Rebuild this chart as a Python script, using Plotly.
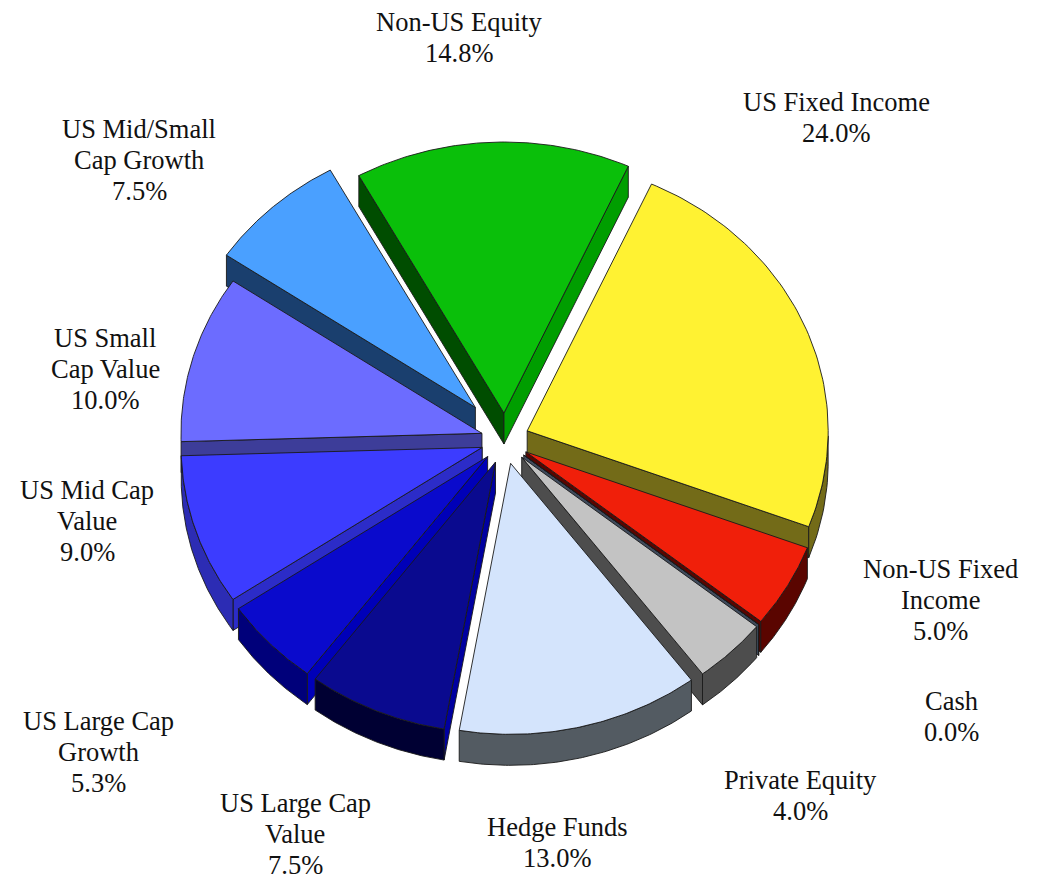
import numpy as np
import plotly.graph_objects as go

categories = ["US Fixed Income", "Non-US Fixed Income", "Cash", "Private Equity", "Hedge Funds",
              "US Large Cap Value", "US Large Cap Growth", "US Mid Cap Value", "US Small Cap Value",
              "US Mid/Small Cap Growth", "Non-US Equity"]
values = [24.0, 5.0, 0.0, 4.0, 13.0, 7.5, 5.3, 9.0, 10.0, 7.5, 14.8]
label_lines = [["US Fixed Income"], ["Non-US Fixed", "Income"], ["Cash"], ["Private Equity"], ["Hedge Funds"],
               ["US Large Cap", "Value"], ["US Large Cap", "Growth"], ["US Mid Cap", "Value"],
               ["US Small", "Cap Value"], ["US Mid/Small", "Cap Growth"], ["Non-US Equity"]]
top_colors = ["#fff232", "#f01f0a", "#8a9ab0", "#c3c3c3", "#d4e4fc", "#0a0a8f", "#0a0acc", "#3c3cff",
              "#6c6cff", "#4aa0ff", "#0abf0a"]
rim_colors = ["#736b18", "#5a0500", "#3f4a5c", "#4d4d4d", "#535b62", "#000033", "#00007a", "#2c2cb4",
              "#3d3d99", "#1a3f6e", "#009e00"]
start_side_colors = ["#736b18", "#5a0500", "#3f4a5c", "#4d4d4d", "#535b62", "#0000a0", "#0000b8", "#2c2cc8",
                     "#3d3d99", "#1a3f6e", "#004d00"]
end_side_colors = ["#736b18", "#5a0500", "#3f4a5c", "#4d4d4d", "#535b62", "#000033", "#00007a", "#2c2cb4",
                   "#3d3d99", "#1a3f6e", "#009e00"]
# how far each slice is pulled out of the pie, in page pixels
pulls = [24, 24, 24, 24, 24, 24, 24, 24, 24, 44, 27]
# anchor of the first line of each label, in page pixels
label_anchor = [(836, 102), (940, 569), (951, 701), (800, 780), (557, 827), (295, 803), (98, 721), (87, 490),
                (105, 338), (139, 129), (459, 22)]

CX, CY = 505, 440
RX, RY = 301, 271
DEPTH = 31
START_DEG = 24.4
LINE = dict(color="#1a1a1a", width=0.9)
LINE_H = 31

fig = go.Figure()


def poly(xs, ys, color, name):
    fig.add_trace(go.Scatter(x=list(xs), y=list(ys), mode="lines", fill="toself", fillcolor=color,
                             line=LINE, showlegend=False, name=name, hoverinfo="name"))


total = sum(values)
slices = []
t0 = START_DEG
for i, v in enumerate(values):
    t1 = t0 + v / total * 360
    slices.append((i, t0, t1))
    t0 = t1

# painter's order: back of the pie first
slices.sort(key=lambda s: np.cos(np.radians((s[1] + s[2]) / 2)), reverse=True)

for i, a0, a1 in slices:
    mid = np.radians((a0 + a1) / 2)
    ax = CX + pulls[i] * np.sin(mid)
    ay = CY - pulls[i] * np.cos(mid)
    ts = np.radians(np.linspace(a0, a1, 80))
    ex = ax + RX * np.sin(ts)
    ey = ay - RY * np.cos(ts)
    name = categories[i]

    s0, s1 = np.sin(ts[0]), np.sin(ts[-1])
    if s0 < 0:  # start edge faces the viewer
        poly([ax, ex[0], ex[0], ax, ax], [ay, ey[0], ey[0] + DEPTH, ay + DEPTH, ay], start_side_colors[i], name)
    if s1 > 0:  # end edge faces the viewer
        poly([ax, ex[-1], ex[-1], ax, ax], [ay, ey[-1], ey[-1] + DEPTH, ay + DEPTH, ay], end_side_colors[i], name)
    lower = np.cos(ts) < 0
    if lower.sum() > 5:
        rx, ry = ex[lower], ey[lower]
        poly(np.r_[rx, rx[::-1], rx[0]], np.r_[ry, ry[::-1] + DEPTH, ry[0]], rim_colors[i], name)
    poly(np.r_[ax, ex, ax], np.r_[ay, ey, ay], top_colors[i], name)

annotations = []
for i, lines in enumerate(label_lines):
    x0, y0 = label_anchor[i]
    for k, txt in enumerate(lines + [f"{values[i]:.1f}%"]):
        annotations.append(dict(x=x0, y=y0 + k * LINE_H, text=txt, showarrow=False, xref="x", yref="y",
                                xanchor="center", yanchor="middle",
                                font=dict(family="Liberation Serif", size=26.5, color="#111111")))

fig.update_layout(
    width=1045, height=878, margin=dict(l=0, r=0, t=0, b=0),
    paper_bgcolor="white", plot_bgcolor="white", showlegend=False, annotations=annotations,
    xaxis=dict(range=[0, 1045], visible=False, fixedrange=True),
    yaxis=dict(range=[878, 0], visible=False, fixedrange=True),
)
fig.write_html("out.html", config={"displayModeBar": False}, post_script="document.body.style.margin='0';")
